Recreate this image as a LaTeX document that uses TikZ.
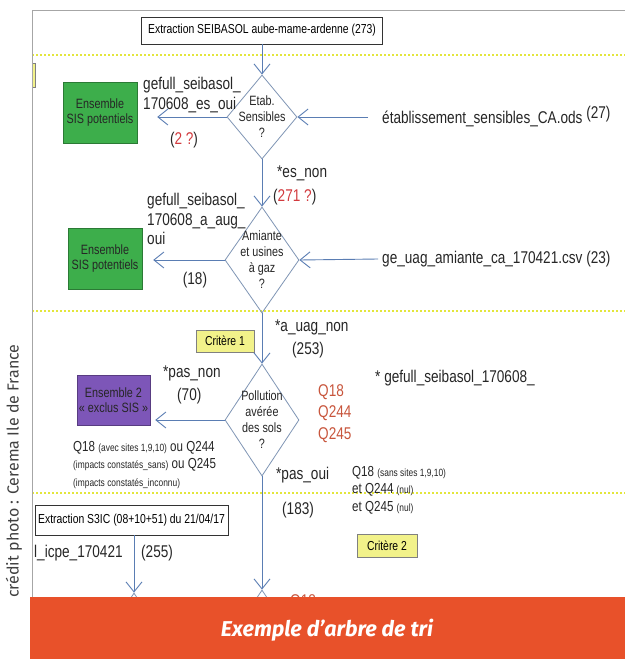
\documentclass[tikz,border=0pt]{standalone}
\usepackage{fontspec}
\setmainfont[FakeStretch=0.8]{Liberation Sans}
\newfontfamily\firafont{Fira Sans}
\usetikzlibrary{shapes.geometric,arrows.meta}

\definecolor{flowblue}{HTML}{5A7DB3}
\definecolor{decgray}{HTML}{7F95B5}
\definecolor{sisgreen}{HTML}{3DAE4B}
\definecolor{exclpurple}{HTML}{7D56B8}
\definecolor{crityellow}{HTML}{F2F28A}
\definecolor{seprule}{HTML}{E3E63C}
\definecolor{qred}{HTML}{C8553C}
\definecolor{numred}{HTML}{D23A3E}
\definecolor{bandeau}{HTML}{E8512A}

\newcommand{\qnote}[1]{{\fontsize{10.5}{12}\selectfont #1}}

\tikzset{
  lbl/.style={inner sep=0pt, text=black!85, font=\fontsize{17}{19.5}\selectfont, align=left},
  decision/.style={diamond, draw=decgray, line width=0.8pt, inner sep=-10pt, align=center,
    font=\fontsize{13.5}{16}\selectfont, text=black!85},
  ensemble/.style={draw=#1!70!black, fill=#1, minimum width=74pt, minimum height=61pt,
    align=center, inner sep=0pt, font=\fontsize{13.5}{15.5}\selectfont, text=black!85},
  critere/.style={draw=gray, fill=crityellow, line width=0.8pt, inner sep=0pt,
    font=\fontsize{13}{15}\selectfont},
  extraction/.style={draw=black!80, fill=white, line width=0.9pt, inner sep=0pt,
    font=\fontsize{13}{15}\selectfont},
  flow/.style={->, draw=flowblue, line width=0.9pt},
  sepline/.style={draw=seprule, line width=1.6pt, dash pattern=on 1.6pt off 2.4pt},
}

\begin{document}
\begin{tikzpicture}[x=1pt, y=-1pt, >={Straight Barb[length=10pt,width=16pt]}]
  \fill[white] (0,0) rectangle (625,659);
  \useasboundingbox (0,0) rectangle (625,659);

  \begin{scope}
    \clip (32,10) rectangle (625,597);
    % separateurs
    \draw[sepline] (32,55) -- (625,55);
    \draw[sepline] (32,311) -- (625,311);
    \draw[sepline] (32,493) -- (625,493);
    \node[critere, minimum width=14pt, minimum height=24pt] (crit0) at (28,75) {};

    % arbre
    \node[extraction, minimum width=241pt, minimum height=27pt] (extr) at (262,30.5) {Extraction SEIBASOL aube-mame-ardenne (273)};
    \node[decision, minimum width=70pt, minimum height=84pt] (etab) at (262,117) {Etab.\\Sensibles\\?};
    \node[decision, minimum width=74pt, minimum height=106pt] (amiante) at (262,260) {Amiante\\et usines\\à gaz\\?};
    \node[decision, minimum width=74pt, minimum height=112pt] (pollution) at (262,420) {Pollution\\avérée\\des sols\\?};
    \node[decision, minimum width=74pt, minimum height=110pt] (suite) at (262,645) {};
    \node[decision, minimum width=74pt, minimum height=110pt] (icpe) at (134,648) {};

    \node[ensemble=sisgreen] (sis1) at (100,112.5) {Ensemble\\SIS potentiels};
    \node[ensemble=sisgreen] (sis2) at (105,258.5) {Ensemble\\SIS potentiels};
    \node[ensemble=exclpurple, minimum width=73pt, minimum height=50pt] (excl) at (113.5,400) {Ensemble 2\\« exclus SIS »};

    \node[critere, minimum width=58pt, minimum height=22pt] (crit1) at (225,341) {Critère 1};
    \node[critere, minimum width=60pt, minimum height=23pt] (crit2) at (387,545.5) {Critère 2};
    \node[extraction, minimum width=193pt, minimum height=30pt] (s3ic) at (131.5,520) {Extraction S3IC (08+10+51) du 21/04/17};

    % textes
    \node[lbl, anchor=north west] (esoui) at (143,77) {gefull\_seibasol\_\\170608\_es\_oui};
    \node[lbl] (n2) at (184,140) {(\textcolor{numred}{2 ?})};
    \node[lbl, anchor=west] (etabsrc) at (382,117) {établissement\_sensibles\_CA.ods \raisebox{5pt}{(27)}};
    \node[lbl, anchor=west] (esnon) at (277,173) {*es\_non};
    \node[lbl, anchor=west] (n271) at (273,197) {(\textcolor{numred}{271 ?})};
    \node[lbl, anchor=north west] (augoui) at (147,193) {gefull\_seibasol\_\\170608\_a\_aug\_\\oui};
    \node[lbl] (n18) at (195,280) {(18)};
    \node[lbl, anchor=west] (uagsrc) at (382,259) {ge\_uag\_amiante\_ca\_170421.csv (23)};
    \node[lbl, anchor=west] (uagnon) at (275,327) {*a\_uag\_non};
    \node[lbl, anchor=west] (n253) at (292,350) {(253)};
    \node[lbl, anchor=west] (pasnon) at (163,373) {*pas\_non};
    \node[lbl, anchor=west] (n70) at (177,396) {(70)};
    \node[lbl, anchor=north west, text=qred, font=\fontsize{17}{21.5}\selectfont] (qlist) at (318,384) {Q18\\Q244\\Q245};
    \node[lbl, anchor=west] (seib) at (375,378) {* gefull\_seibasol\_170608\_};
    \node[lbl, anchor=north west, font=\fontsize{14.5}{17.5}\selectfont] (qexcl) at (73,441) {Q18 \qnote{(avec sites 1,9,10)} ou Q244\\\qnote{(impacts constatés\_sans)} ou Q245\\\qnote{(impacts constatés\_inconnu)}};
    \node[lbl, anchor=west] (pasoui) at (276,475) {*pas\_oui};
    \node[lbl, anchor=north west, font=\fontsize{14.5}{17.5}\selectfont] (qoui) at (352,466) {Q18 \qnote{(sans sites 1,9,10)}\\et Q244 \qnote{(nul)}\\et Q245 \qnote{(nul)}};
    \node[lbl, anchor=west] (n183) at (282,510) {(183)};
    \node[lbl, anchor=west] (icpelbl) at (34,553) {l\_icpe\_170421};
    \node[lbl, anchor=west] (n255) at (141,553) {(255)};
    \node[lbl, anchor=west, text=qred] (qsuite) at (290,602) {Q18};

    % fleches
    \draw[flow] (extr) -- (etab);
    \draw[flow] (etab) -- (amiante);
    \draw[flow] (amiante) -- (pollution);
    \draw[flow] (pollution) -- (suite);
    \draw[flow] (s3ic.south -| icpe.north) -- (icpe.north);
    \draw[flow] (etab.west) -- ([xshift=20pt]etab.west -| sis1.east);
    \draw[flow] (amiante.west) -- ([xshift=11pt]amiante.west -| sis2.east);
    \draw[flow] (pollution.west) -- ([xshift=5pt]pollution.west -| excl.east);
    \draw[flow] ([xshift=-14pt]etabsrc.west) -- (etab.east);
    \draw[flow] ([xshift=-4pt]uagsrc.west) -- (amiante.east);
  \end{scope}

  \draw[gray!70, line width=0.8pt] (32,597) -- (32,10) -- (625,10);
  \fill[bandeau] (30,597) rectangle (625,659);
  \node[text=white, font=\firafont\bfseries\itshape\fontsize{21.5}{25}\selectfont] (titre) at (327,630) {Exemple d’arbre de tri};
  \node[rotate=90, text=black!75, font=\firafont\fontsize{16}{18}\selectfont] (credit) at (14,471) {crédit photo : Cerema Ile de France};
\end{tikzpicture}
\end{document}
